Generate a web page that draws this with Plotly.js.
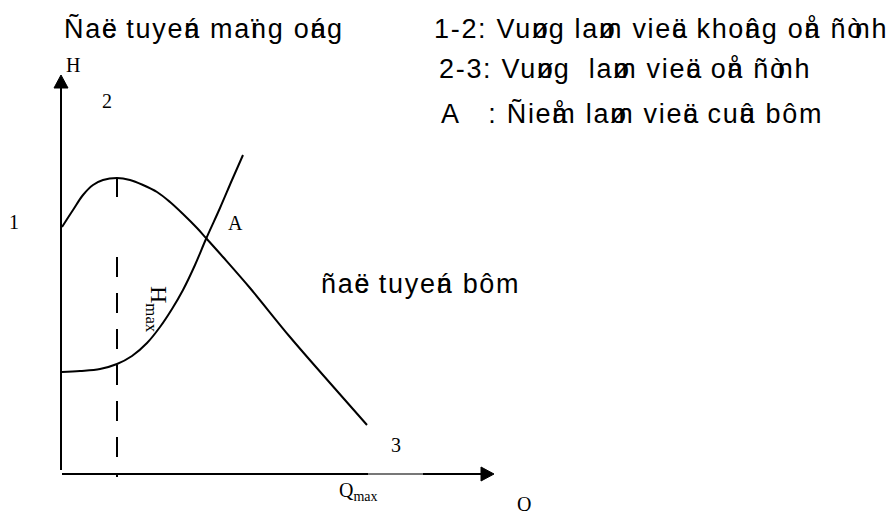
<!DOCTYPE html>
<html>
<head>
<meta charset="utf-8">
<script src="https://cdn.plot.ly/plotly-3.0.1.min.js"></script>
<style>html,body{margin:0;padding:0;background:#fff;}</style>
</head>
<body>
<div id="chart" style="width:893px;height:511px;"></div>
<script>
// Pump characteristic H(Q), drawing units
const pumpQ = [0.1, 1.2, 2.2, 3.2, 4.2, 5.6, 6.9, 8.2, 9.6, 10.9, 12.2, 13.6, 14.5, 16.2, 18.9, 22.9, 26.9, 30.6];
const pumpH = [24.7, 26.4, 27.9, 28.9, 29.4, 29.6, 29.4, 28.9, 28.2, 27.2, 26.0, 24.6, 23.6, 21.7, 18.6, 13.7, 9.1, 4.9];

// Pipe network (system) characteristic H(Q)
const netQ = [0.1, 1.9, 3.9, 5.6, 7.1, 8.6, 9.9, 11.1, 12.2, 13.4, 14.5, 15.9, 17.1, 18.2];
const netH = [10.2, 10.3, 10.5, 11.0, 11.8, 13.1, 14.7, 16.5, 18.4, 20.9, 23.5, 26.6, 29.4, 31.9];

// Captions (VNI-encoded Vietnamese)
const captionNetwork = 'Ñaëc tuyeán maïng oáng';
const captionUnstable = '1-2: Vuøng laøm vieäc khoâng oån ñònh';
const captionStable = '2-3: Vuøng  laøm vieäc oån ñònh';
const captionPoint = 'A   : Ñieåm laøm vieäc cuûa bôm';
const captionPump = 'ñaëc tuyeán bôm';

// Diagram labels
const axisLabelH = 'H';
const axisLabelQ = 'Q';
const pointLabels = ['1', '2', '3', 'A'];
const qmaxLabel = 'Q<sub>max</sub>';
const hmaxLabel = 'H<sub>max</sub>';

// --- layout helpers (pixel -> paper) ---
const W = 893, Hpx = 511;
const px = v => v / W;
const py = v => 1 - v / Hpx;

const SANS = 'Liberation Sans, Arial, sans-serif';
const SERIF = 'Liberation Serif, Times New Roman, serif';
const SANS_SIZE = 27;
const SPACING = 1.7;
// VNI mark characters: drawn without advance, on top of the following letter
const TONE = 'ùøûõïâáàåãäêéèúüë';
// VNI letters narrower than their Latin-1 look-alikes (em advance)
const NARROW = { 'ò': 0.222 };

function vni(s) {
  let out = '';
  for (const ch of s) {
    if (TONE.includes(ch)) {
      const em = ch === 'ï' ? 0.278 : (ch === 'ø' ? 0.611 : 0.556);
      out += '<span style="letter-spacing:-' + (em * SANS_SIZE).toFixed(2) + 'px">' + ch + '</span>';
    } else if (NARROW[ch] !== undefined) {
      const ls = (NARROW[ch] - 0.556) * SANS_SIZE + SPACING;
      out += '<span style="letter-spacing:' + ls.toFixed(2) + 'px">' + ch + '</span>';
    } else if (ch === ' ') {
      out += '\u00A0';
    } else {
      out += ch;
    }
  }
  return '<span style="letter-spacing:' + SPACING + 'px">' + out + '</span>';
}

// peak of the pump curve gives Q at H max
let iPeak = 0;
pumpH.forEach((h, i) => { if (h > pumpH[iPeak]) iPeak = i; });
const qPeak = pumpQ[iPeak];
const hPeak = pumpH[iPeak];

const black = '#000';
const traces = [
  { x: pumpQ, y: pumpH, type: 'scatter', mode: 'lines',
    line: { color: black, width: 2, shape: 'spline', smoothing: 1 }, hoverinfo: 'skip' },
  { x: netQ, y: netH, type: 'scatter', mode: 'lines',
    line: { color: black, width: 2, shape: 'spline', smoothing: 1 }, hoverinfo: 'skip' }
];

const shapes = [
  // H axis with arrow
  { type: 'line', xref: 'x', yref: 'y', x0: 0, x1: 0, y0: 0.4, y1: 38.8, line: { color: black, width: 2 } },
  { type: 'path', xref: 'x', yref: 'y', path: 'M -0.7 38.6 L 0 39.9 L 0.7 38.6 Z', fillcolor: black, line: { color: black, width: 1 } },
  // Q axis with arrow
  { type: 'line', xref: 'x', yref: 'y', x0: 0.1, x1: 42.2, y0: 0, y1: 0, line: { color: black, width: 2 } },
  { type: 'line', xref: 'x', yref: 'y', x0: 30.7, x1: 36.2, y0: 0, y1: 0, line: { color: '#777', width: 2 } },
  { type: 'path', xref: 'x', yref: 'y', path: 'M 42.0 0.7 L 43.3 0 L 42.0 -0.7 Z', fillcolor: black, line: { color: black, width: 1 } },
  // tick at the top of the pump curve
  { type: 'line', xref: 'x', yref: 'y', x0: qPeak, x1: qPeak, y0: hPeak - 1.9, y1: hPeak, line: { color: black, width: 2 } },
  // dashed line down from H max to the Q axis
  { type: 'line', xref: 'x', yref: 'y', x0: qPeak, x1: qPeak, y0: 21.7, y1: -0.3, line: { color: black, width: 2, dash: '20px,16px' } }
];

function sansNote(text, x, yMid) {
  return { xref: 'paper', yref: 'paper', x: px(x), y: py(yMid), xanchor: 'left', yanchor: 'middle',
    text: vni(text), showarrow: false, font: { family: SANS, size: SANS_SIZE, color: black } };
}
function serifNote(text, x, y, extra) {
  return Object.assign({ xref: 'paper', yref: 'paper', x: px(x), y: py(y), xanchor: 'center', yanchor: 'middle',
    text: text, showarrow: false, font: { family: SERIF, size: 20, color: black } }, extra || {});
}

const annotations = [
  sansNote(captionNetwork, 62, 28.7),
  sansNote(captionUnstable, 432, 28.7),
  sansNote(captionStable, 437, 68.7),
  sansNote(captionPoint, 439, 113.7),
  sansNote(captionPump, 319, 283.7),
  serifNote(axisLabelH, 73, 65),
  serifNote(pointLabels[1], 107, 101),
  serifNote(pointLabels[0], 14, 222),
  serifNote(pointLabels[3], 236, 223),
  serifNote(pointLabels[2], 396, 445),
  serifNote(qmaxLabel, 358, 477, { yanchor: 'top' }),
  serifNote(hmaxLabel, 157, 309, { textangle: 90, font: { family: SERIF, size: 24, color: black } }),
  serifNote(axisLabelQ, 524, 504)
];

const layout = {
  width: W, height: Hpx,
  margin: { l: 0, r: 0, t: 0, b: 0, pad: 0 },
  paper_bgcolor: '#fff', plot_bgcolor: '#fff',
  showlegend: false,
  xaxis: { range: [-6.1, 83.2], visible: false, fixedrange: true },
  yaxis: { range: [-3.7, 47.4], visible: false, fixedrange: true },
  shapes: shapes,
  annotations: annotations
};

Plotly.newPlot('chart', traces, layout, { staticPlot: true, displayModeBar: false });
</script>
</body>
</html>
